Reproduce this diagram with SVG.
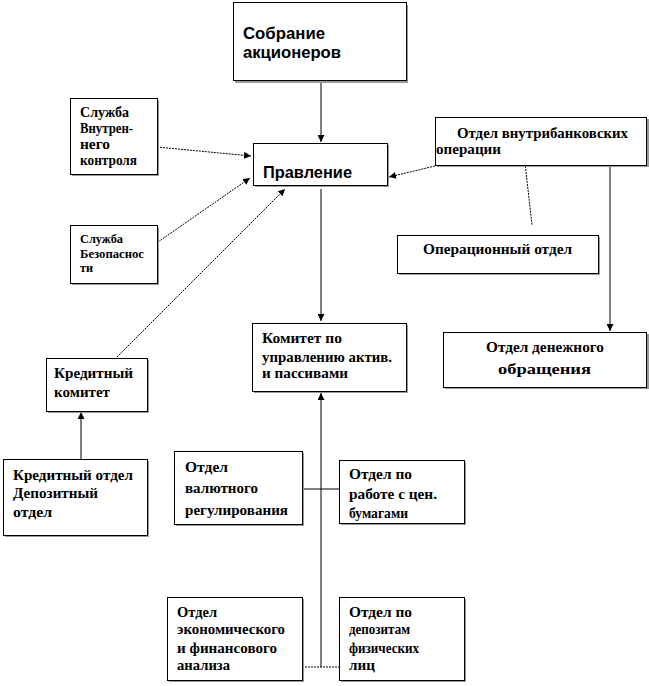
<svg xmlns="http://www.w3.org/2000/svg" width="649" height="686" viewBox="0 0 649 686">
<defs>
<style>
.box{fill:#fff;stroke:#000;stroke-width:1}
.sh{fill:#9a9a9a}
.t{font-family:"Liberation Serif","Times New Roman",serif;font-weight:bold;font-size:14.5px;fill:#000}
.a{font-family:"Liberation Sans",Arial,sans-serif;font-weight:bold;font-size:16px;fill:#000}
.s{font-size:12px}
.ln{stroke:#000;stroke-width:1;fill:none}
.dl{stroke:#000;stroke-width:1;fill:none;stroke-dasharray:2 1}
</style>
<marker id="ar" viewBox="0 0 10 10" refX="10" refY="5" markerWidth="7" markerHeight="7" markerUnits="userSpaceOnUse" orient="auto">
<path d="M0,0 L10,5 L0,10 z" fill="#000"/>
</marker>
</defs>
<rect width="649" height="686" fill="#fff"/>

<g id="connectors">
<line class="ln" x1="321" y1="81" x2="321" y2="142" marker-end="url(#ar)"/>
<line class="dl" x1="157" y1="147" x2="251" y2="156" marker-end="url(#ar)"/>
<line class="dl" x1="158" y1="242" x2="250" y2="178" marker-end="url(#ar)"/>
<line class="dl" x1="117" y1="357" x2="285" y2="189" marker-end="url(#ar)"/>
<line class="dl" x1="435" y1="166" x2="389" y2="177" marker-end="url(#ar)"/>
<line class="dl" x1="525" y1="163" x2="532" y2="225"/>
<line class="ln" x1="610" y1="165" x2="610" y2="331" marker-end="url(#ar)"/>
<line class="ln" x1="321" y1="189" x2="321" y2="321" marker-end="url(#ar)"/>
<line class="ln" x1="321" y1="667" x2="321" y2="393" marker-end="url(#ar)"/>
<line class="ln" x1="302" y1="489" x2="339" y2="489"/>
<line class="dl" x1="302" y1="667" x2="339" y2="667" stroke-dasharray="1 1"/>
<line class="ln" x1="81" y1="459" x2="81" y2="412" marker-end="url(#ar)"/>
</g>

<g id="sobranie">
<rect class="sh" x="235" y="5" width="173" height="78"/>
<rect class="box" x="233.5" y="2.5" width="173" height="78"/>
<text class="a" x="243" y="39" textLength="82" lengthAdjust="spacingAndGlyphs">Собрание</text>
<text class="a" x="243" y="58" textLength="98" lengthAdjust="spacingAndGlyphs">акционеров</text>
</g>

<g id="pravlenie">
<rect class="sh" x="255" y="145" width="134" height="42"/>
<rect class="box" x="253.5" y="143.5" width="134" height="42"/>
<text class="a" x="263" y="178" textLength="89" lengthAdjust="spacingAndGlyphs">Правление</text>
</g>

<g id="vnutr-kontrol">
<rect class="sh" x="72" y="100" width="87" height="76"/>
<rect class="box" x="70.5" y="98.5" width="87" height="76"/>
<text class="t" x="80" y="117" textLength="49" lengthAdjust="spacingAndGlyphs">Служба</text>
<text class="t" x="80" y="133" textLength="53" lengthAdjust="spacingAndGlyphs">Внутрен-</text>
<text class="t" x="80" y="149" textLength="30" lengthAdjust="spacingAndGlyphs">него</text>
<text class="t" x="80" y="165" textLength="57" lengthAdjust="spacingAndGlyphs">контроля</text>
</g>

<g id="bezopasnost">
<rect class="sh" x="72" y="227" width="87" height="58"/>
<rect class="box" x="70.5" y="225.5" width="87" height="58"/>
<text class="t s" x="80" y="243" textLength="43" lengthAdjust="spacingAndGlyphs">Служба</text>
<text class="t s" x="80" y="258" textLength="64" lengthAdjust="spacingAndGlyphs">Безопаснос</text>
<text class="t s" x="80" y="272" textLength="13" lengthAdjust="spacingAndGlyphs">ти</text>
</g>

<g id="vnutribank">
<rect class="sh" x="437" y="119" width="212" height="48"/>
<rect class="box" x="435.5" y="117.5" width="211" height="48"/>
<text class="t" x="457" y="138" textLength="171" lengthAdjust="spacingAndGlyphs">Отдел внутрибанковских</text>
<text class="t" x="436" y="154" textLength="65" lengthAdjust="spacingAndGlyphs">операции</text>
</g>

<g id="operacionny">
<rect class="sh" x="399" y="237" width="201" height="38"/>
<rect class="box" x="397.5" y="235.5" width="201" height="38"/>
<text class="t" x="423" y="254" textLength="149" lengthAdjust="spacingAndGlyphs">Операционный отдел</text>
</g>

<g id="denezhnogo">
<rect class="sh" x="445" y="334" width="204" height="55"/>
<rect class="box" x="443.5" y="332.5" width="203" height="55"/>
<text class="t" x="486" y="352" textLength="118" lengthAdjust="spacingAndGlyphs">Отдел денежного</text>
<text class="t" x="498" y="374" textLength="93" lengthAdjust="spacingAndGlyphs">обращения</text>
</g>

<g id="komitet-aktiv">
<rect class="sh" x="254" y="325" width="154" height="68"/>
<rect class="box" x="252.5" y="323.5" width="154" height="68"/>
<text class="t" x="262" y="343" textLength="80" lengthAdjust="spacingAndGlyphs">Комитет по</text>
<text class="t" x="262" y="362" textLength="130" lengthAdjust="spacingAndGlyphs">управлению актив.</text>
<text class="t" x="262" y="378" textLength="86" lengthAdjust="spacingAndGlyphs">и пассивами</text>
</g>

<g id="kreditny-komitet">
<rect class="sh" x="48" y="360" width="101" height="53"/>
<rect class="box" x="46.5" y="358.5" width="101" height="53"/>
<text class="t" x="54" y="378" style="font-size:15px" textLength="79" lengthAdjust="spacingAndGlyphs">Кредитный</text>
<text class="t" x="54" y="397" style="font-size:15px" textLength="56" lengthAdjust="spacingAndGlyphs">комитет</text>
</g>

<g id="kreditny-otdel">
<rect class="sh" x="5" y="461" width="144" height="76"/>
<rect class="box" x="3.5" y="459.5" width="144" height="76"/>
<text class="t" x="13" y="480" style="font-size:15px" textLength="120" lengthAdjust="spacingAndGlyphs">Кредитный отдел</text>
<text class="t" x="13" y="498" style="font-size:15px" textLength="85" lengthAdjust="spacingAndGlyphs">Депозитный</text>
<text class="t" x="13" y="517" style="font-size:15px" textLength="39" lengthAdjust="spacingAndGlyphs">отдел</text>
</g>

<g id="valyutnogo">
<rect class="sh" x="176" y="453" width="128" height="73"/>
<rect class="box" x="174.5" y="451.5" width="128" height="73"/>
<text class="t" x="185" y="472" textLength="43" lengthAdjust="spacingAndGlyphs">Отдел</text>
<text class="t" x="185" y="493" textLength="73" lengthAdjust="spacingAndGlyphs">валютного</text>
<text class="t" x="185" y="515" textLength="103" lengthAdjust="spacingAndGlyphs">регулирования</text>
</g>

<g id="cen-bumagi">
<rect class="sh" x="341" y="462" width="125" height="63"/>
<rect class="box" x="339.5" y="460.5" width="125" height="63"/>
<text class="t" x="349" y="479" textLength="63" lengthAdjust="spacingAndGlyphs">Отдел по</text>
<text class="t" x="349" y="499" textLength="88" lengthAdjust="spacingAndGlyphs">работе с цен.</text>
<text class="t" x="349" y="518" textLength="59" lengthAdjust="spacingAndGlyphs">бумагами</text>
</g>

<g id="ekonom-analiz">
<rect class="sh" x="169" y="599" width="135" height="83"/>
<rect class="box" x="167.5" y="597.5" width="135" height="83"/>
<text class="t" x="177" y="617" textLength="40" lengthAdjust="spacingAndGlyphs">Отдел</text>
<text class="t" x="177" y="634" textLength="108" lengthAdjust="spacingAndGlyphs">экономического</text>
<text class="t" x="177" y="653" textLength="100" lengthAdjust="spacingAndGlyphs">и финансового</text>
<text class="t" x="177" y="670" textLength="53" lengthAdjust="spacingAndGlyphs">анализа</text>
</g>

<g id="depozity-fiz">
<rect class="sh" x="341" y="599" width="125" height="83"/>
<rect class="box" x="339.5" y="597.5" width="125" height="83"/>
<text class="t" x="349" y="617" textLength="63" lengthAdjust="spacingAndGlyphs">Отдел по</text>
<text class="t" x="349" y="634" textLength="61" lengthAdjust="spacingAndGlyphs">депозитам</text>
<text class="t" x="349" y="653" textLength="70" lengthAdjust="spacingAndGlyphs">физических</text>
<text class="t" x="349" y="670" textLength="26" lengthAdjust="spacingAndGlyphs">лиц</text>
</g>
</svg>
